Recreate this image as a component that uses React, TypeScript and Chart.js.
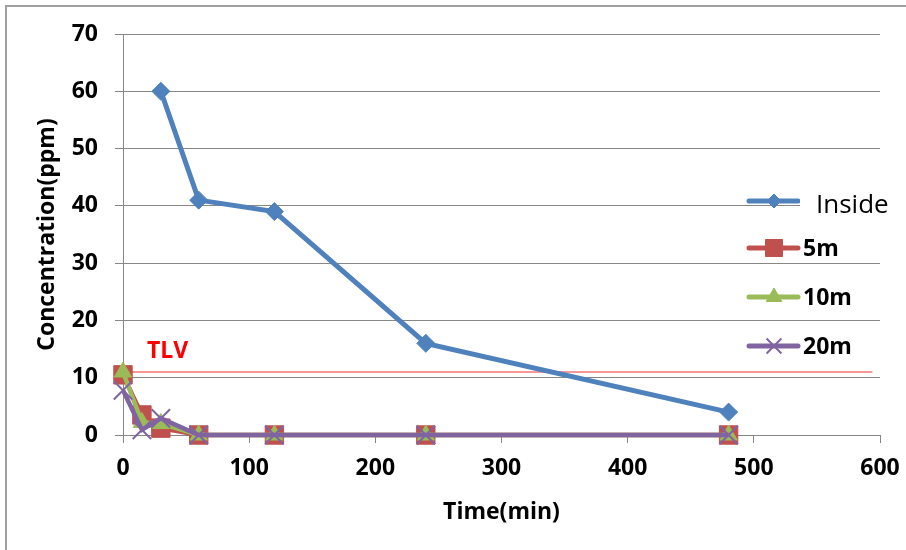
import React, { useEffect, useRef } from "react";
import { Chart, registerables } from "chart.js";
import { drawPoint } from "chart.js/helpers";

Chart.register(...registerables);

// ---- data ----
const times = [0, 15, 30, 60, 120, 240, 480];
const insideTimes = [30, 60, 120, 240, 480];
const insideValues = [60, 41, 39, 16, 4];
const m5Values = [10.5, 3.5, 1.2, 0, 0, 0, 0];
const m10Values = [11, 2.2, 2, 0, 0, 0, 0];
const m20Values = [7.8, 0.9, 2.9, 0, 0, 0, 0];
const seriesNames = ["Inside", "5m", "10m", "20m"];
const seriesColors = ["#4F81BD", "#C0504D", "#9BBB59", "#8064A2"];
const tlvLabel = "TLV";
const tlvValue = 11;
const tlvSpan = [0, 594];
const xTitle = "Time(min)";
const yTitle = "Concentration(ppm)";
const xMin = 0, xMax = 600, xStep = 100;
const yMin = 0, yMax = 70, yStep = 10;

const FONT = "'Open Sans', 'Noto Sans', sans-serif";
const GRID = "#878787";

const pts = (xs: number[], ys: number[]) => xs.map((x, i) => ({ x, y: ys[i] }));

const legendItems = [
  { style: "rectRot", radius: 7, border: 1 },
  { style: "rect", radius: 12, border: 1 },
  { style: "triangle", radius: 9, border: 1 },
  { style: "crossRot", radius: 10.5, border: 2 },
];
const legendY = [201, 248, 297, 346];

const overlay = {
  id: "overlay",
  afterDraw(chart: any) {
    const ctx: CanvasRenderingContext2D = chart.ctx;
    const area = chart.chartArea;
    ctx.save();
    // outer border (top + left)
    ctx.strokeStyle = "#a0a0a0";
    ctx.lineWidth = 2;
    ctx.beginPath();
    ctx.moveTo(6, 560);
    ctx.lineTo(6, 6);
    ctx.lineTo(910, 6);
    ctx.stroke();

    // axis titles
    ctx.fillStyle = "#000";
    ctx.font = `bold 23px ${FONT}`;
    ctx.textAlign = "center";
    ctx.textBaseline = "middle";
    ctx.fillText(xTitle, (area.left + area.right) / 2, 512);
    ctx.save();
    ctx.translate(47, (area.top + area.bottom) / 2);
    ctx.rotate(-Math.PI / 2);
    ctx.fillText(yTitle, 0, 0);
    ctx.restore();

    // TLV label
    ctx.fillStyle = "#FF0000";
    ctx.textAlign = "left";
    ctx.fillText(tlvLabel, 147, 351);

    // legend
    seriesNames.forEach((name, i) => {
      const y = legendY[i];
      const c = seriesColors[i];
      ctx.strokeStyle = c;
      ctx.fillStyle = c;
      ctx.lineWidth = 5;
      ctx.lineCap = "round";
      ctx.beginPath();
      ctx.moveTo(749, y);
      ctx.lineTo(798, y);
      ctx.stroke();
      ctx.lineCap = "butt";
      const it = legendItems[i];
      ctx.lineWidth = it.border;
      drawPoint(ctx, { pointStyle: it.style as any, radius: it.radius, rotation: 0, borderWidth: it.border }, 774, y);
      if (i === 0) {
        ctx.fillStyle = "#fff";
        ctx.fillRect(800, 188, 82, 28);
        ctx.fillStyle = "#000";
        ctx.font = `26px ${FONT}`;
        ctx.textBaseline = "alphabetic";
        ctx.fillText(name, 816, 213);
      } else {
        ctx.fillStyle = "#000";
        ctx.font = `bold 23px ${FONT}`;
        ctx.textBaseline = "middle";
        ctx.fillText(name, 803, y + 1);
      }
    });
    ctx.restore();
  },
};

export default function App() {
  const ref = useRef<HTMLCanvasElement>(null);
  useEffect(() => {
    if (!ref.current) return;
    const tickFont = { family: FONT, size: 23, weight: "bold" as const };
    const chart = new Chart(ref.current, {
      type: "line",
      data: {
        datasets: [
          {
            label: "TLV",
            data: pts(tlvSpan, [tlvValue, tlvValue]),
            borderColor: "#F03030",
            borderWidth: 1.2,
            pointRadius: 0,
            order: 5,
          },
          {
            label: seriesNames[0],
            data: pts(insideTimes, insideValues),
            borderColor: seriesColors[0],
            backgroundColor: seriesColors[0],
            borderWidth: 5,
            pointStyle: "rectRot",
            pointRadius: 9,
            pointBorderWidth: 1,
            order: 4,
          },
          {
            label: seriesNames[1],
            data: pts(times, m5Values),
            borderColor: seriesColors[1],
            backgroundColor: seriesColors[1],
            borderWidth: 4.5,
            pointStyle: "rect",
            pointRadius: 13,
            pointBorderWidth: 1,
            order: 3,
          },
          {
            label: seriesNames[2],
            data: pts(times, m10Values),
            borderColor: seriesColors[2],
            backgroundColor: seriesColors[2],
            borderWidth: 4.5,
            pointStyle: "triangle",
            pointRadius: 10,
            pointBorderWidth: 1,
            order: 2,
          },
          {
            label: seriesNames[3],
            data: pts(times, m20Values),
            borderColor: seriesColors[3],
            backgroundColor: seriesColors[3],
            borderWidth: 4.5,
            pointStyle: "crossRot",
            pointRadius: 13,
            pointBorderWidth: 2,
            order: 1,
          },
        ],
      },
      options: {
        animation: false,
        responsive: true,
        maintainAspectRatio: false,
        layout: { padding: { top: 34, right: 26, left: 0, bottom: 0 } },
        datasets: { line: { clip: false as any, tension: 0 } },
        plugins: { legend: { display: false }, tooltip: { enabled: false } },
        scales: {
          x: {
            type: "linear",
            min: xMin,
            max: xMax,
            ticks: { stepSize: xStep, font: { ...tickFont, lineHeight: 1.7 }, color: "#000", padding: 6, maxRotation: 0 },
            grid: { drawOnChartArea: false, drawTicks: true, tickLength: 8, color: GRID },
            border: { color: GRID, width: 1 },
            afterFit: (s: any) => { s.height = 115; },
          },
          y: {
            type: "linear",
            min: yMin,
            max: yMax,
            ticks: { stepSize: yStep, font: tickFont, color: "#000", padding: 17 },
            grid: { color: GRID, tickLength: 8 },
            border: { color: GRID, width: 1 },
            afterFit: (s: any) => { s.width = 123; },
          },
        },
      },
      plugins: [overlay],
    });
    return () => chart.destroy();
  }, []);
  return (
    <div style={{ position: "absolute", left: 0, top: 0, width: 906, height: 550, background: "#fff" }}>
      <canvas ref={ref} />
    </div>
  );
}
